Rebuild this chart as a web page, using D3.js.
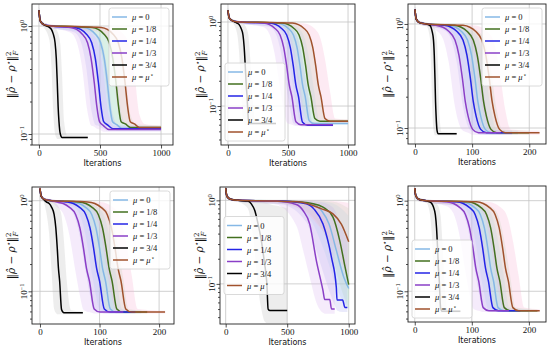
<!DOCTYPE html>
<html>
<head>
<meta charset="utf-8">
<script src="https://cdn.jsdelivr.net/npm/d3@7"></script>
<style>
  body { margin: 0; background: #fff; }
  text { fill: #111; }
</style>
</head>
<body>
<svg id="fig" width="550" height="348"></svg>
<script>
// legend labels and colours, one per mu setting
var labels = ["μ = 0", "μ = 1/8", "μ = 1/4", "μ = 1/3", "μ = 3/4", "μ = μ⋆"];
var colors = ["#86b8e6", "#43701f", "#2424e6", "#8a3fc7", "#000000", "#a0522d"];
var fills  = ["#a8e4f0", "#b9dfb0", "#b4b4f2", "#dcb8f2", "#bdbdbd", "#f8b4d4"];

// rows: [iteration, mean, lower, upper]
var start1k  = [[0,1.4,1.3,1.5],[10,1.12,1.06,1.2],[40,1.03,1,1.07],[100,1,0.96,1.03]];
var start1kB = [[0,1.38,1.28,1.48],[10,1.12,1.06,1.2],[40,1.03,1,1.07],[100,1,0.96,1.03]];
var start200 = [[0,1.38,1.3,1.48],[2,1.12,1.06,1.2],[8,1.03,1,1.07],[20,1,0.96,1.03]];

// panel 1
var p1Mu0 = start1k.concat([[364,.97,.87,.985],[416,.93,.72,.975],[458,.85,.43,.965],[505,.7,.16,.925],[535,.5,.123,.87],[560,.3,.12,.81],[581,.18,.115,.74],[603,.13,.113,.61],[637,.122,.108,.36],[679,.113,.108,.15],[722,.113,.108,.122],[1000,.113,.108,.118]]);
var p1Mu18 = start1k.concat([[250,.99,.95,1.01],[436,.97,.87,.985],[486,.93,.72,.975],[529,.85,.43,.965],[576,.7,.16,.925],[605,.5,.125,.87],[631,.3,.122,.81],[652,.18,.117,.74],[673,.13,.115,.61],[708,.124,.11,.36],[750,.115,.11,.15],[793,.115,.11,.124],[1000,.115,.11,.12]]);
var p1Mu14 = start1k.concat([[291,.97,.87,.985],[342,.93,.72,.975],[385,.85,.43,.965],[432,.7,.16,.925],[462,.5,.122,.87],[487,.3,.119,.81],[508,.18,.114,.74],[530,.13,.112,.61],[564,.121,.107,.36],[606,.112,.107,.15],[649,.112,.107,.121],[1000,.112,.107,.117]]);
var p1Mu13 = start1k.concat([[257,.97,.87,.985],[308,.93,.72,.975],[351,.85,.43,.965],[398,.7,.16,.925],[427,.5,.12,.87],[453,.3,.117,.81],[474,.18,.112,.74],[496,.13,.11,.61],[530,.119,.105,.36],[572,.11,.105,.15],[615,.11,.105,.119],[1000,.11,.105,.115]]);
var p1Mu34 = [[0,1.4,1.3,1.5],[10,1.12,1.06,1.2],[40,1.03,.97,1.07],[86,.97,.74,.99],[102,.93,.43,.99],[116,.85,.17,.98],[132,.7,.1,.96],[142,.5,.093,.94],[150,.3,.09,.9],[157,.18,.09,.86],[164,.13,.09,.81],[175,.1,.09,.68],[189,.093,.09,.36],[206,.093,.09,.13],[231,.093,.09,.098],[400,.093,.09,.097]];
var p1MuS = start1k.concat([[300,.99,.95,1.01],[510,.97,.87,.985],[560,.93,.72,.975],[603,.85,.43,.965],[650,.7,.16,.925],[680,.5,.125,.87],[705,.3,.122,.81],[726,.18,.117,.74],[748,.13,.115,.61],[782,.124,.11,.36],[824,.115,.11,.15],[867,.115,.11,.124],[1000,.115,.11,.12]]);

// panel 2
var p2Mu0 = start1kB.concat([[404,.97,.87,.985],[456,.93,.72,.975],[498,.85,.43,.965],[545,.7,.16,.925],[575,.5,.092,.87],[600,.3,.066,.81],[621,.18,.063,.74],[643,.13,.062,.61],[677,.067,.06,.36],[719,.062,.06,.15],[762,.062,.06,.067],[1000,.062,.06,.064]]);
var p2Mu18 = start1kB.concat([[250,.99,.95,1.01],[452,.97,.87,.985],[503,.93,.72,.975],[545,.85,.43,.965],[592,.7,.16,.925],[622,.5,.095,.87],[647,.3,.07,.81],[668,.18,.067,.74],[690,.13,.066,.61],[724,.071,.063,.36],[766,.066,.063,.15],[809,.066,.063,.071],[1000,.066,.063,.069]]);
var p2Mu14 = start1kB.concat([[349,.97,.87,.985],[400,.93,.72,.975],[442,.85,.43,.965],[489,.7,.16,.925],[519,.5,.09,.87],[544,.3,.0625,.81],[565,.18,.06,.74],[587,.13,.059,.61],[621,.064,.057,.36],[663,.059,.057,.15],[706,.059,.057,.064],[875,.059,.057,.061]]);
var p2Mu13 = start1kB.concat([[294,.97,.87,.985],[345,.93,.72,.975],[387,.85,.43,.965],[434,.7,.16,.925],[464,.5,.091,.87],[489,.3,.064,.81],[510,.18,.061,.74],[532,.13,.06,.61],[566,.065,.058,.36],[608,.06,.058,.15],[651,.06,.058,.065],[875,.06,.058,.062]]);
var p2Mu34 = [[0,1.38,1.28,1.48],[10,1.12,1.06,1.2],[40,1.03,.97,1.07],[75,.97,.74,.99],[93,.93,.43,.99],[108,.85,.17,.98],[125,.7,.068,.96],[135,.5,.062,.94],[144,.3,.06,.9],[152,.18,.06,.86],[159,.13,.06,.81],[171,.067,.06,.68],[186,.062,.06,.36],[204,.062,.06,.13],[231,.062,.06,.065],[400,.062,.06,.064]];
var p2MuS = start1kB.concat([[300,.99,.95,1.01],[536,.97,.87,.985],[587,.93,.72,.975],[629,.85,.43,.965],[676,.7,.16,.925],[706,.5,.095,.87],[731,.3,.07,.81],[752,.18,.067,.74],[774,.13,.066,.61],[808,.071,.063,.36],[850,.066,.063,.15],[893,.066,.063,.071],[1000,.066,.063,.069]]);

// panel 3
var p3Mu0 = start200.concat([[59,.97,.87,.985],[71,.93,.72,.975],[81,.85,.43,.965],[92,.7,.16,.925],[99,.5,.11,.87],[105,.3,.095,.81],[110,.18,.092,.74],[115,.13,.09,.61],[123,.097,.086,.36],[133,.09,.086,.15],[143,.09,.086,.097],[180,.09,.086,.094]]);
var p3Mu18 = start200.concat([[69,.97,.87,.985],[81,.93,.72,.975],[91,.85,.43,.965],[102,.7,.16,.925],[109,.5,.11,.87],[115,.3,.095,.81],[120,.18,.092,.74],[125,.13,.09,.61],[133,.097,.086,.36],[143,.09,.086,.15],[153,.09,.086,.097],[200,.09,.086,.094]]);
var p3Mu14 = start200.concat([[51,.97,.87,.985],[63,.93,.72,.975],[73,.85,.43,.965],[84,.7,.16,.925],[91,.5,.11,.87],[97,.3,.095,.81],[102,.18,.092,.74],[107,.13,.09,.61],[115,.097,.086,.36],[125,.09,.086,.15],[135,.09,.086,.097],[170,.09,.086,.094]]);
var p3Mu13 = start200.concat([[37,.97,.87,.985],[49,.93,.72,.975],[59,.85,.43,.965],[70,.7,.16,.925],[77,.5,.11,.87],[83,.3,.095,.81],[88,.18,.092,.74],[93,.13,.09,.61],[101,.097,.086,.36],[111,.09,.086,.15],[121,.09,.086,.097],[150,.09,.086,.094]]);
var p3Mu34 = [[0,1.38,1.3,1.48],[2,1.12,1.06,1.2],[8,1.03,.98,1.07],[20,1,.95,1.03],[26,.97,.74,.99],[28,.93,.43,.99],[30,.85,.17,.98],[32.4,.7,.097,.96],[33.8,.5,.088,.94],[35,.3,.085,.9],[36,.18,.085,.86],[37,.13,.085,.81],[38.6,.095,.085,.68],[40.6,.088,.085,.36],[43,.088,.085,.13],[46.6,.088,.085,.092],[73,.088,.085,.091]];
var p3MuS = start200.concat([[84,.97,.87,.985],[96,.93,.72,.975],[106,.85,.43,.965],[117,.7,.16,.925],[124,.5,.11,.87],[130,.3,.095,.81],[135,.18,.092,.74],[140,.13,.09,.61],[148,.097,.086,.36],[158,.09,.086,.15],[168,.09,.086,.097],[218,.09,.086,.094]]);

// panel 4
var p4Mu0 = start200.concat([[54,.97,.87,.985],[66,.93,.72,.975],[76,.85,.43,.965],[87,.7,.16,.925],[94,.5,.09,.87],[100,.3,.0625,.81],[105,.18,.06,.74],[110,.13,.059,.61],[118,.064,.057,.36],[128,.059,.057,.15],[138,.059,.057,.064],[170,.059,.057,.061]]);
var p4Mu18 = start200.concat([[65,.97,.87,.985],[77,.93,.72,.975],[87,.85,.43,.965],[98,.7,.16,.925],[105,.5,.09,.87],[111,.3,.0625,.81],[116,.18,.06,.74],[121,.13,.059,.61],[129,.064,.057,.36],[139,.059,.057,.15],[149,.059,.057,.064],[180,.059,.057,.061]]);
var p4Mu14 = start200.concat([[44,.97,.87,.985],[56,.93,.72,.975],[66,.85,.43,.965],[77,.7,.16,.925],[84,.5,.09,.87],[90,.3,.0625,.81],[95,.18,.06,.74],[100,.13,.059,.61],[108,.064,.057,.36],[118,.059,.057,.15],[128,.059,.057,.064],[160,.059,.057,.061]]);
var p4Mu13 = start200.concat([[27,.97,.87,.985],[39,.93,.72,.975],[49,.85,.43,.965],[60,.7,.16,.925],[67,.5,.09,.87],[73,.3,.0625,.81],[78,.18,.06,.74],[83,.13,.059,.61],[91,.064,.057,.36],[101,.059,.057,.15],[111,.059,.057,.064],[140,.059,.057,.061]]);
var p4Mu34 = [[0,1.35,1.27,1.42],[2,1.12,1.06,1.2],[6,1.04,.98,1.08],[10.6,.97,.74,.99],[15.4,.93,.43,.99],[19.4,.85,.17,.98],[23.8,.7,.064,.96],[26.6,.5,.058,.94],[29,.3,.056,.9],[31,.18,.056,.86],[33,.13,.056,.81],[36.2,.063,.056,.68],[40.2,.058,.056,.36],[45,.058,.056,.13],[52.2,.058,.056,.062],[72,.058,.056,.06]];
var p4MuS = start200.concat([[80,.97,.87,.985],[92,.93,.72,.975],[102,.85,.43,.965],[113,.7,.16,.925],[120,.5,.09,.87],[126,.3,.0625,.81],[131,.18,.06,.74],[136,.13,.059,.61],[144,.064,.057,.36],[154,.059,.057,.15],[164,.059,.057,.064],[210,.059,.057,.061]]);

// panel 5
var p5Mu0 = start1k.concat([[500,.97,.9,1],[700,.9,.55,.99],[780,.75,.3,.97],[840,.52,.17,.95],[900,.25,.09,.88],[960,.12,.06,.75],[1000,.088,.05,.65]]);
var p5Mu18 = start1k.concat([[550,.97,.88,1],[700,.92,.65,.99],[791,.83,.42,.98],[872,.63,.2,.96],[927,.33,.1,.92],[970,.16,.065,.85],[1000,.098,.05,.8]]);
var p5Mu14 = start1k.concat([[450,.98,.9,1],[655,.91,.55,.99],[720,.78,.3,.97],[791,.52,.14,.94],[859,.21,.07,.85],[899,.091,.05,.7],[905,.064,.048,.65],[950,.064,.046,.45],[970,.052,.046,.38],[989,.052,.046,.34]]);
var p5Mu13 = start1k.concat([[400,.98,.9,1],[574,.89,.5,.99],[630,.75,.25,.98],[683,.52,.12,.95],[737,.19,.06,.88],[791,.083,.045,.75],[805,.065,.044,.65],[846,.065,.044,.45],[860,.05,.044,.35],[886,.05,.044,.3]]);
var p5Mu34 = start1k.concat([[180,.98,.8,1],[210,.9,.5,1],[236,.76,.25,.99],[260,.55,.1,.98],[290,.33,.05,.97],[315,.18,.036,.95],[335,.1,.034,.93],[345,.05,.034,.92],[360,.048,.034,.9],[420,.048,.034,.86],[500,.048,.034,.8]]);
var p5MuS = start1k.concat([[400,.98,.93,1],[600,.955,.8,1],[780,.79,.45,.99],[872,.69,.3,.98],[940,.52,.18,.96],[1000,.32,.12,.93]]);

// panel 6
var p6Mu0 = start200.concat([[82,.97,.87,.985],[94,.93,.72,.975],[104,.85,.43,.965],[115,.7,.16,.925],[122,.5,.092,.87],[128,.3,.065,.81],[133,.18,.062,.74],[138,.13,.061,.61],[146,.066,.059,.36],[156,.061,.059,.15],[166,.061,.059,.066],[200,.061,.059,.063]]);
var p6Mu18 = start200.concat([[93,.97,.87,.985],[105,.93,.72,.975],[115,.85,.43,.965],[126,.7,.16,.925],[133,.5,.092,.87],[139,.3,.065,.81],[144,.18,.062,.74],[149,.13,.061,.61],[157,.066,.059,.36],[167,.061,.059,.15],[177,.061,.059,.066],[215,.061,.059,.063]]);
var p6Mu14 = start200.concat([[73,.97,.87,.985],[85,.93,.72,.975],[95,.85,.43,.965],[106,.7,.16,.925],[113,.5,.092,.87],[119,.3,.065,.81],[124,.18,.062,.74],[129,.13,.061,.61],[137,.066,.059,.36],[147,.061,.059,.15],[157,.061,.059,.066],[185,.061,.059,.063]]);
var p6Mu13 = start200.concat([[56,.97,.87,.985],[68,.93,.72,.975],[78,.85,.43,.965],[89,.7,.16,.925],[96,.5,.092,.87],[102,.3,.065,.81],[107,.18,.062,.74],[112,.13,.061,.61],[120,.066,.059,.36],[130,.061,.059,.15],[140,.061,.059,.066],[165,.061,.059,.063]]);
var p6Mu34 = [[0,1.38,1.3,1.48],[2,1.12,1.06,1.2],[8,1.03,.98,1.07],[20,1,.95,1.03],[26.2,.97,.74,.99],[29.8,.93,.43,.99],[32.8,.85,.17,.98],[36.1,.7,.066,.96],[38.2,.5,.06,.94],[40,.3,.058,.9],[41.5,.18,.058,.86],[43,.13,.058,.81],[45.4,.065,.058,.68],[48.4,.06,.058,.36],[52,.06,.058,.13],[57.4,.06,.058,.064],[80,.06,.058,.062]];
var p6MuS = start200.concat([[108,.97,.87,.985],[120,.93,.72,.975],[130,.85,.43,.965],[141,.7,.16,.925],[148,.5,.092,.87],[154,.3,.065,.81],[159,.18,.062,.74],[164,.13,.061,.61],[172,.066,.059,.36],[182,.061,.059,.15],[192,.061,.059,.066],[219,.061,.059,.063]]);

var xTicks1k = [0, 500, 1000];
var xTicks200 = [0, 100, 200];
var yMajor = [0.1, 1];
var yMinor = [0.03,0.04,0.05,0.06,0.07,0.08,0.09,0.2,0.3,0.4,0.5,0.6,0.7,0.8,0.9,2,3];

var panels = [
  {series: [p1Mu0,p1Mu18,p1Mu14,p1Mu13,p1Mu34,p1MuS], box: [32,4,173,145], xdom: [-57,1098], ydom: [0.0791,1.600], xticks: xTicks1k, legend: "ur"},
  {series: [p2Mu0,p2Mu18,p2Mu14,p2Mu13,p2Mu34,p2MuS], box: [221,4,355,145], xdom: [-58,1058], ydom: [0.0344,1.637], xticks: xTicks1k, legend: "ll"},
  {series: [p3Mu0,p3Mu18,p3Mu14,p3Mu13,p3Mu34,p3MuS], box: [408,4,546,144], xdom: [-12.2,229.3], ydom: [0.0702,1.556], xticks: xTicks200, legend: "ur"},
  {series: [p4Mu0,p4Mu18,p4Mu14,p4Mu13,p4Mu34,p4MuS], box: [32,187,174,324], xdom: [-13.4,225], ydom: [0.0436,1.416], xticks: xTicks200, legend: "ur"},
  {series: [p5Mu0,p5Mu18,p5Mu14,p5Mu13,p5Mu34,p5MuS], box: [220,187,355,324], xdom: [-46,1051], ydom: [0.0331,1.445], xticks: xTicks1k, legend: "cl"},
  {series: [p6Mu0,p6Mu18,p6Mu14,p6Mu13,p6Mu34,p6MuS], box: [408,186,546,322], xdom: [-11.8,230], ydom: [0.0458,1.452], xticks: xTicks200, legend: "ll"}
];

var serif = "'Liberation Serif', 'DejaVu Serif', serif";
var svg = d3.select("#fig");

function mathText(sel, str) {
  str.split(/(μ|⋆)/).filter(Boolean).forEach(function(s) {
    if (s === "μ") sel.append("tspan").style("font-style", "italic").text(s);
    else if (s === "⋆") sel.append("tspan").attr("dy", -3).style("font-size", "6px").text(s);
    else sel.append("tspan").text(s);
  });
}

panels.forEach(function(p, pi) {
  var x0 = p.box[0], y0 = p.box[1], x1 = p.box[2], y1 = p.box[3];
  var x = d3.scaleLinear().domain(p.xdom).range([x0, x1]);
  var y = d3.scaleLog().domain(p.ydom).range([y1, y0]);
  var g = svg.append("g");

  g.append("clipPath").attr("id", "clip" + pi)
    .append("rect").attr("x", x0).attr("y", y0).attr("width", x1 - x0).attr("height", y1 - y0);

  // grid
  g.selectAll(".gx").data(p.xticks).enter().append("line")
    .attr("x1", function(d) { return x(d); }).attr("x2", function(d) { return x(d); })
    .attr("y1", y0).attr("y2", y1)
    .attr("stroke", "#c4c4c4").attr("stroke-width", 0.8);
  g.selectAll(".gy").data(yMajor).enter().append("line")
    .attr("x1", x0).attr("x2", x1)
    .attr("y1", function(d) { return y(d); }).attr("y2", function(d) { return y(d); })
    .attr("stroke", "#c4c4c4").attr("stroke-width", 0.8);

  var plot = g.append("g").attr("clip-path", "url(#clip" + pi + ")");

  var band = d3.area()
    .x(function(d) { return x(d[0]); })
    .y0(function(d) { return y(d[2]); })
    .y1(function(d) { return y(d[3]); })
    .curve(d3.curveMonotoneX);
  var line = d3.line()
    .x(function(d) { return x(d[0]); })
    .y(function(d) { return y(d[1]); })
    .curve(d3.curveMonotoneX);

  p.series.forEach(function(s, i) {
    plot.append("path").datum(s).attr("d", band)
      .attr("fill", fills[i]).attr("fill-opacity", 0.28);
  });
  p.series.forEach(function(s, i) {
    plot.append("path").datum(s).attr("d", line)
      .attr("fill", "none").attr("stroke", colors[i]).attr("stroke-width", 1.5)
      .attr("stroke-linejoin", "round");
  });

  // axes
  var gx = g.append("g").attr("transform", "translate(0," + y1 + ")")
    .call(d3.axisBottom(x).tickValues(p.xticks).tickFormat(d3.format("d")).tickSize(3.5).tickPadding(0.8));
  gx.select(".domain").remove();
  gx.selectAll("text").style("font-family", serif).style("font-size", "9px");

  var gy = g.append("g").attr("transform", "translate(" + x0 + ",0)")
    .call(d3.axisLeft(y).tickValues(yMajor).tickSize(3.5).tickFormat(""));
  gy.select(".domain").remove();
  var gm = g.append("g").attr("transform", "translate(" + x0 + ",0)")
    .call(d3.axisLeft(y).tickValues(yMinor.filter(function(v) { return v > p.ydom[0] && v < p.ydom[1]; }))
      .tickSize(2).tickFormat(""));
  gm.select(".domain").remove();
  g.selectAll(".tick line").attr("stroke", "#222").attr("stroke-width", 0.8);

  yMajor.forEach(function(v) {
    var t = g.append("text")
      .attr("transform", "translate(" + (x0 - 5) + "," + y(v) + ") rotate(-90)")
      .attr("text-anchor", "middle")
      .style("font-family", serif).style("font-size", "9px");
    t.append("tspan").text("10");
    t.append("tspan").attr("dy", -3.5).style("font-size", "6.5px").text(v === 1 ? "0" : "−1");
  });

  g.append("rect").attr("x", x0).attr("y", y0).attr("width", x1 - x0).attr("height", y1 - y0)
    .attr("fill", "none").attr("stroke", "#222").attr("stroke-width", 0.9);

  g.append("text").attr("x", (x0 + x1) / 2).attr("y", y1 + 21)
    .attr("text-anchor", "middle")
    .style("font-family", "'DejaVu Sans', sans-serif").style("font-size", "8px")
    .text("Iterations");

  // y label: ||rho_hat - rho*||_F^2
  var lab = g.append("text")
    .attr("transform", "translate(" + (x0 - 17) + "," + ((y0 + y1) / 2) + ") rotate(-90)")
    .attr("text-anchor", "middle")
    .style("font-family", "'DejaVu Serif', serif").style("font-size", "10.5px");
  lab.append("tspan").text("‖");
  lab.append("tspan").style("font-style", "italic").text("ρ̂");
  lab.append("tspan").text(" − ");
  lab.append("tspan").style("font-style", "italic").text("ρ");
  lab.append("tspan").attr("dy", -4).style("font-size", "7px").text("⋆");
  lab.append("tspan").attr("dy", 4).text("‖");
  lab.append("tspan").attr("dy", -4.5).style("font-size", "7px").text("2");
  lab.append("tspan").attr("dx", -4).attr("dy", 7.5).style("font-size", "7px").style("font-style", "italic").text("F");

  // legend
  var lw = 60, lh = 78, lx, ly;
  if (p.legend === "ur") { lx = x1 - 4 - lw; ly = y0 + 4; }
  else if (p.legend === "ll") { lx = x0 + 4; ly = y1 - 4 - lh; }
  else { lx = x0 + 4; ly = (y0 + y1) / 2 - lh / 2; }
  var lg = g.append("g");
  lg.append("rect").attr("x", lx).attr("y", ly).attr("width", lw).attr("height", lh)
    .attr("rx", 2.5).attr("fill", "#fff").attr("fill-opacity", 0.8)
    .attr("stroke", "#d0d0d0").attr("stroke-width", 0.8);
  labels.forEach(function(l, i) {
    var ey = ly + 9 + i * 12;
    lg.append("line").attr("x1", lx + 3).attr("x2", lx + 18).attr("y1", ey).attr("y2", ey)
      .attr("stroke", colors[i]).attr("stroke-width", 1.5);
    var t = lg.append("text").attr("x", lx + 23).attr("y", ey + 3)
      .style("font-family", serif).style("font-size", "8.5px");
    mathText(t, l);
  });
});
</script>
</body>
</html>
